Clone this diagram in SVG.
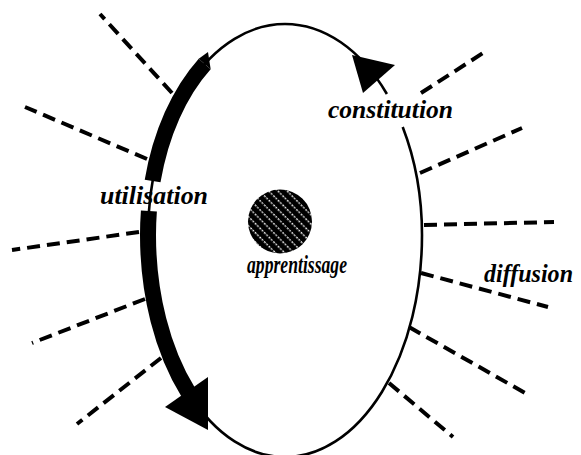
<svg xmlns="http://www.w3.org/2000/svg" width="581" height="455" viewBox="0 0 581 455">
<style>
.thin{fill:none;stroke:#000;stroke-width:2.6}
.thick{fill:none;stroke:#000;stroke-width:16;stroke-linecap:butt}
.dash{fill:none;stroke:#000;stroke-width:4;stroke-dasharray:13 7}
.lbl{font-family:"Liberation Serif","Times New Roman",serif;font-style:italic;font-weight:bold;font-size:26px;fill:#000}
</style>
<defs>
<pattern id="hatch" patternUnits="userSpaceOnUse" width="6.5" height="6.5" patternTransform="rotate(-45)">
<rect width="6.5" height="6.5" fill="#000"/>
<line x1="3" y1="0" x2="3" y2="6.5" stroke="#fff" stroke-width="1.3" stroke-dasharray="2 1.2"/>
</pattern>
</defs>
<rect width="581" height="455" fill="#fff"/>
<g id="cycle">
<path class="thin" d="M386.9,94 A137,211 0 0 0 285,24 A137,211 0 0 0 148,235 A137,222 0 0 0 285,457 A137,222 0 0 0 422,235 A137,211 0 0 0 402.7,127"/>
<polygon points="352,55 395,65 363,93" fill="#000"/>
</g>
<g id="utilisation-arc">
<path class="thick" d="M204.7,64 A137,211 0 0 0 152.6,181"/>
<path class="thick" d="M148.9,211 A137,211 0 0 0 148,235 A137,222 0 0 0 188.1,392"/>
<polygon points="198.7,58.7 208,52 210.7,69.3" fill="#000"/>
<polygon points="165,407 208,377 208,430" fill="#000"/>
</g>
<g id="connectors">
<line class="dash" x1="172" y1="93" x2="100" y2="14"/>
<line class="dash" x1="147" y1="159" x2="25" y2="107"/>
<line class="dash" x1="139" y1="232" x2="12" y2="250"/>
<line class="dash" x1="145" y1="299" x2="32" y2="343"/>
<line class="dash" x1="161" y1="358" x2="77" y2="424"/>
<line class="dash" x1="421" y1="93" x2="483" y2="53"/>
<line class="dash" x1="420" y1="173" x2="522" y2="128"/>
<line class="dash" x1="424" y1="225" x2="554" y2="222"/>
<line class="dash" x1="421" y1="273" x2="548" y2="307"/>
<line class="dash" x1="409" y1="327" x2="525" y2="393"/>
<line class="dash" x1="389" y1="383" x2="453" y2="437"/>
</g>
<g id="apprentissage">
<circle cx="280" cy="221.5" r="32" fill="url(#hatch)"/>
<text class="lbl" x="247" y="273" font-size="23" textLength="100" lengthAdjust="spacingAndGlyphs">apprentissage</text>
</g>
<g id="labels">
<text class="lbl" x="100" y="204" textLength="108" lengthAdjust="spacingAndGlyphs">utilisation</text>
<text class="lbl" x="328" y="118" textLength="125" lengthAdjust="spacingAndGlyphs">constitution</text>
<text class="lbl" x="484" y="282" textLength="89" lengthAdjust="spacingAndGlyphs">diffusion</text>
</g>
</svg>
